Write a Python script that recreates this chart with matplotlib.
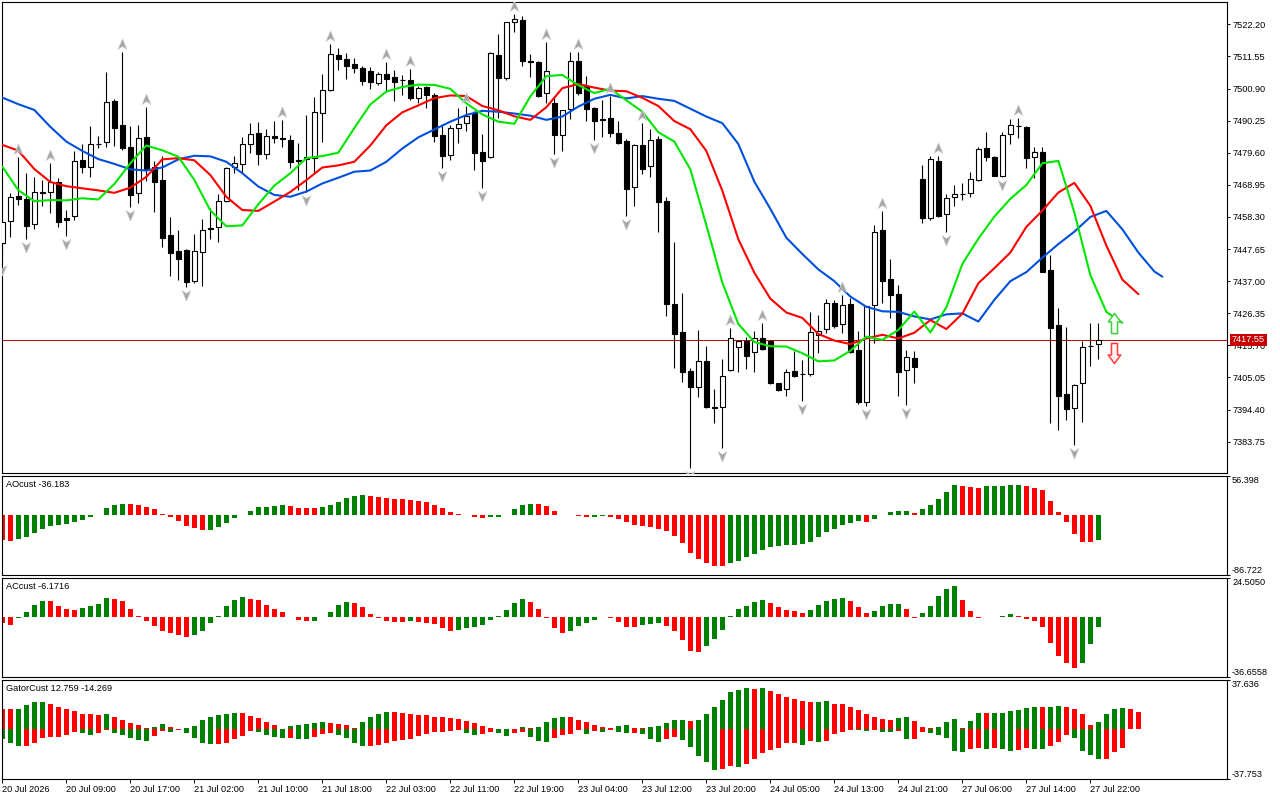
import numpy as np
import matplotlib
matplotlib.use("Agg")
import matplotlib.pyplot as plt
from matplotlib.path import Path
from matplotlib.transforms import offset_copy

plt.rcParams['font.family'] = ['Liberation Sans', 'DejaVu Sans']
plt.rcParams['font.size'] = 6.6

# ---------------- data: hourly candles ----------------
opens = [7449.8, 7456.9, 7465.2, 7464.1, 7455.9, 7466.4, 7466.7, 7470.0, 7457.8, 7458.6,
         7477.2, 7475.0, 7482.4, 7483.0, 7496.9, 7488.8, 7481.5, 7466.1, 7484.8, 7475.0,
         7470.6, 7452.3, 7447.1, 7447.3, 7437.1, 7446.6, 7454.3, 7454.9, 7463.5, 7474.7,
         7475.8, 7482.4, 7486.2, 7479.3, 7485.2, 7484.6, 7483.8, 7477.3, 7478.1, 7477.8,
         7492.7, 7500.3, 7512.0, 7510.6, 7509.0, 7507.8, 7506.7, 7502.8, 7505.7, 7504.6,
         7503.8, 7503.7, 7497.9, 7501.3, 7498.8, 7485.5, 7478.9, 7487.9, 7489.4, 7492.7,
         7480.0, 7478.3, 7512.0, 7504.3, 7522.9, 7523.6, 7509.9, 7509.8, 7499.3, 7496.0,
         7485.6, 7494.1, 7510.0, 7501.7, 7494.6, 7490.8, 7491.2, 7486.0, 7483.5, 7468.1,
         7482.0, 7475.1, 7484.2, 7463.6, 7429.4, 7420.0, 7407.2, 7402.0, 7410.5, 7395.2,
         7395.4, 7407.4, 7415.0, 7417.0, 7413.4, 7418.0, 7417.2, 7403.1, 7401.1, 7407.2,
         7406.3, 7406.1, 7419.2, 7421.1, 7429.7, 7422.8, 7429.3, 7414.2, 7396.8, 7429.1,
         7454.0, 7437.6, 7432.6, 7407.5, 7411.4, 7470.8, 7457.8, 7476.9, 7459.3, 7464.8,
         7465.8, 7466.1, 7470.6, 7481.1, 7478.3, 7471.9, 7485.7, 7488.4, 7488.2, 7478.3,
         7479.7, 7440.7, 7422.5, 7399.6, 7394.8, 7403.1, 7415.4, 7416.2]
highs = [7457.8, 7466.4, 7478.3, 7472.8, 7471.7, 7470.6, 7476.3, 7471.1, 7460.6, 7480.2,
         7482.5, 7488.5, 7485.3, 7506.5, 7497.3, 7513.1, 7488.5, 7488.7, 7494.9, 7476.9,
         7478.5, 7458.3, 7454.0, 7447.5, 7452.6, 7457.6, 7461.2, 7465.8, 7475.0, 7478.5,
         7484.8, 7489.4, 7489.7, 7487.5, 7490.1, 7490.5, 7485.5, 7482.9, 7492.1, 7498.0,
         7505.7, 7515.7, 7514.2, 7512.6, 7510.9, 7508.5, 7507.9, 7506.5, 7509.7, 7507.0,
         7505.3, 7507.4, 7501.7, 7501.7, 7499.3, 7489.1, 7488.7, 7494.6, 7495.2, 7493.5,
         7485.8, 7513.1, 7519.0, 7523.1, 7525.6, 7525.0, 7512.4, 7510.0, 7516.4, 7498.2,
         7493.8, 7512.9, 7512.9, 7505.1, 7494.7, 7497.1, 7498.5, 7490.1, 7484.0, 7482.5,
         7489.4, 7487.4, 7485.0, 7464.8, 7450.0, 7433.0, 7408.3, 7420.8, 7415.5, 7401.1,
         7411.1, 7421.4, 7417.5, 7418.6, 7420.5, 7423.0, 7417.5, 7403.3, 7407.9, 7413.8,
         7410.8, 7426.7, 7425.8, 7431.0, 7430.8, 7432.4, 7431.3, 7420.5, 7428.9, 7455.6,
         7460.3, 7444.4, 7435.7, 7414.0, 7413.8, 7475.5, 7478.5, 7478.5, 7465.8, 7468.9,
         7469.7, 7473.1, 7481.6, 7486.4, 7478.4, 7486.4, 7490.8, 7491.0, 7488.5, 7481.6,
         7481.6, 7445.7, 7428.0, 7421.7, 7402.9, 7417.0, 7423.0, 7423.0]
lows = [7443.5, 7451.8, 7462.3, 7450.9, 7454.4, 7462.0, 7459.7, 7454.8, 7452.0, 7457.3,
        7473.0, 7471.7, 7481.1, 7481.6, 7481.8, 7480.5, 7461.7, 7463.0, 7470.2, 7460.0,
        7448.4, 7438.7, 7437.4, 7435.0, 7436.5, 7435.5, 7451.1, 7450.1, 7463.4, 7472.8,
        7472.8, 7479.6, 7475.6, 7477.6, 7482.9, 7481.4, 7474.4, 7467.3, 7466.5, 7473.0,
        7483.3, 7500.2, 7507.0, 7504.2, 7505.9, 7502.1, 7500.7, 7502.1, 7499.9, 7496.9,
        7498.8, 7497.1, 7496.0, 7494.3, 7483.3, 7474.4, 7477.2, 7482.7, 7486.8, 7473.9,
        7467.8, 7477.8, 7491.0, 7503.7, 7519.8, 7508.5, 7504.8, 7498.2, 7496.0, 7479.2,
        7480.2, 7490.8, 7498.8, 7490.2, 7483.8, 7484.7, 7484.7, 7482.5, 7458.6, 7462.0,
        7472.7, 7471.7, 7453.4, 7425.6, 7408.3, 7403.7, 7374.9, 7398.7, 7395.0, 7390.0,
        7381.8, 7407.3, 7406.8, 7408.0, 7407.0, 7414.0, 7402.9, 7400.4, 7399.0, 7405.3,
        7397.2, 7405.7, 7413.1, 7419.7, 7421.6, 7419.7, 7413.1, 7396.2, 7395.6, 7416.4,
        7429.7, 7424.7, 7399.0, 7395.9, 7403.1, 7456.4, 7457.3, 7458.4, 7453.4, 7462.0,
        7463.9, 7465.0, 7470.2, 7477.0, 7471.9, 7471.4, 7482.5, 7484.6, 7474.4, 7471.1,
        7440.0, 7389.8, 7387.6, 7390.9, 7382.7, 7390.4, 7409.0, 7411.2]
closes = [7456.7, 7465.0, 7464.1, 7455.4, 7466.5, 7466.6, 7470.0, 7456.7, 7457.4, 7476.8,
          7475.0, 7482.5, 7482.6, 7496.3, 7487.9, 7481.3, 7465.6, 7484.5, 7474.2, 7470.0,
          7451.4, 7446.2, 7444.5, 7436.8, 7447.0, 7454.0, 7454.5, 7463.5, 7474.4, 7476.1,
          7482.5, 7485.7, 7479.3, 7485.2, 7484.4, 7484.2, 7476.6, 7477.0, 7477.5, 7493.0,
          7500.4, 7512.2, 7510.7, 7508.5, 7507.8, 7503.4, 7503.2, 7505.7, 7504.2, 7503.2,
          7503.6, 7497.9, 7501.1, 7498.8, 7485.2, 7478.6, 7487.9, 7489.1, 7491.9, 7479.6,
          7477.0, 7512.6, 7504.5, 7522.9, 7523.9, 7510.0, 7509.7, 7498.5, 7506.7, 7485.6,
          7493.7, 7510.0, 7499.5, 7494.2, 7490.2, 7490.6, 7486.0, 7482.9, 7467.7, 7482.0,
          7474.3, 7483.7, 7463.4, 7429.3, 7419.4, 7407.0, 7401.8, 7410.5, 7395.1, 7395.0,
          7405.5, 7418.0, 7417.2, 7412.3, 7418.0, 7414.4, 7403.1, 7400.9, 7406.8, 7405.7,
          7406.2, 7420.0, 7420.3, 7429.7, 7422.2, 7429.1, 7413.6, 7397.0, 7428.8, 7453.2,
          7437.2, 7432.4, 7406.8, 7411.7, 7408.6, 7458.1, 7477.4, 7458.6, 7464.5, 7465.9,
          7466.0, 7470.8, 7480.8, 7478.3, 7472.0, 7485.5, 7488.8, 7488.6, 7478.0, 7479.7,
          7440.2, 7421.6, 7399.0, 7394.5, 7402.6, 7415.1, 7415.6, 7417.55]

# Alligator lines, read every second bar (shifted forward past the last bar)
jaw_bars = list(range(0, 145, 2)) + [145]
jaw = [7497.9, 7495.7, 7493.8, 7488.2, 7483.3, 7480.2, 7477.5, 7475.9, 7474.1, 7473.7,
       7474.7, 7477.4, 7478.6, 7478.4, 7476.6, 7472.8, 7468.4, 7465.6, 7465.0, 7466.7,
       7469.4, 7471.3, 7473.3, 7473.7, 7476.6, 7481.0, 7484.7, 7487.3, 7489.9, 7492.1,
       7493.5, 7493.2, 7492.6, 7491.9, 7490.5, 7491.6, 7494.9, 7497.5, 7498.8, 7497.6,
       7498.4, 7497.5, 7496.8, 7494.2, 7491.6, 7489.4, 7482.5, 7470.0, 7461.0, 7451.4,
       7446.0, 7440.9, 7437.0, 7431.9, 7428.5, 7427.0, 7426.8, 7425.3, 7424.3, 7426.0,
       7426.3, 7423.6, 7430.8, 7437.0, 7440.0, 7444.8, 7449.3, 7453.4, 7458.3, 7460.3,
       7454.2, 7446.5, 7440.2, 7438.5]
teeth_bars = list(range(0, 143, 2))
teeth = [7482.2, 7480.3, 7474.2, 7469.9, 7468.5, 7467.8, 7467.1, 7466.3, 7468.0, 7471.6,
         7477.4, 7477.8, 7477.1, 7472.2, 7465.0, 7460.6, 7460.3, 7463.4, 7466.6, 7470.5,
         7474.7, 7475.4, 7476.6, 7482.0, 7488.7, 7493.0, 7495.3, 7497.7, 7498.6, 7498.4,
         7495.1, 7493.7, 7491.7, 7490.5, 7494.7, 7501.0, 7502.4, 7501.2, 7500.2, 7500.0,
         7497.8, 7495.1, 7490.1, 7487.4, 7480.2, 7467.0, 7450.9, 7439.8, 7431.2, 7426.6,
         7424.8, 7419.5, 7417.3, 7416.1, 7418.0, 7419.2, 7418.0, 7419.9, 7424.1, 7421.1,
         7426.2, 7436.3, 7441.3, 7446.5, 7455.0, 7460.4, 7466.4, 7469.6, 7462.0, 7448.8,
         7437.5, 7432.7]
lips_bars = list(range(0, 141, 2))
lips = [7475.0, 7467.2, 7463.5, 7463.9, 7463.8, 7464.5, 7464.1, 7469.2, 7476.1, 7482.0,
        7480.4, 7478.3, 7470.6, 7460.5, 7455.2, 7455.5, 7462.5, 7468.7, 7472.8, 7477.8,
        7478.5, 7479.6, 7487.8, 7495.6, 7499.9, 7501.4, 7502.2, 7502.1, 7500.8, 7496.0,
        7492.3, 7489.9, 7489.2, 7498.3, 7505.0, 7505.4, 7502.0, 7499.4, 7500.8, 7497.0,
        7493.2, 7486.4, 7483.3, 7474.1, 7455.6, 7436.5, 7422.8, 7416.8, 7415.4, 7415.3,
        7413.1, 7410.4, 7410.7, 7413.9, 7418.6, 7417.5, 7420.8, 7426.9, 7420.0, 7428.3,
        7442.7, 7451.1, 7458.4, 7464.3, 7468.9, 7476.1, 7476.9, 7459.8, 7439.0, 7426.8,
        7423.2]

# Fractal bars
fractal_up = [2, 6, 15, 18, 35, 41, 48, 51, 58, 64, 68, 72, 76, 80, 91, 95, 105, 110, 117, 127]
fractal_dn = [0, 3, 8, 16, 23, 38, 55, 60, 69, 74, 78, 86, 90, 100, 108, 113, 118, 125, 134]
signal_bar = 139

# Awesome oscillator
ao = [-37.1, -38.6, -35.7, -32.8, -27.0, -21.2, -16.9, -15.4, -14.0, -10.6,
      -8.2, -3.9, -1.0, 9.2, 13.5, 15.9, 15.4, 14.5, 11.6, 8.7,
      0.8, -2.9, -8.7, -15.9, -19.8, -22.6, -21.7, -18.3, -12.5, -5.3,
      -1.0, 5.8, 10.6, 11.6, 13.0, 14.5, 13.0, 10.1, 9.9, 9.2,
      10.6, 14.5, 18.8, 24.1, 27.0, 28.9, 27.5, 26.0, 24.6, 23.1,
      22.2, 21.2, 20.2, 17.8, 14.5, 9.2, 4.3, 1.0, -0.5, -3.9,
      -5.3, -3.9, -2.9, -1.0, 7.7, 14.5, 16.2, 15.9, 13.0, 5.8,
      0.3, -0.5, -2.4, -4.0, -3.6, -1.9, -3.9, -6.7, -11.1, -14.5,
      -15.9, -17.8, -20.2, -23.1, -30.4, -40.5, -54.9, -63.6, -69.4, -73.7,
      -74.7, -69.9, -66.5, -61.7, -56.4, -50.6, -47.2, -45.8, -44.3, -43.4,
      -41.9, -39.0, -32.8, -25.5, -20.7, -14.5, -11.6, -9.6, -11.1, -6.7,
      -1.0, 3.4, 5.6, 6.0, 1.9, 7.7, 14.5, 23.1, 33.3, 42.9,
      41.9, 40.5, 39.0, 41.5, 41.9, 42.2, 43.0, 43.4, 41.9, 38.6,
      35.2, 20.2, 3.9, -11.1, -27.5, -38.8, -39.2, -36.183]
ao_colors = [("R", 2), ("G", 14), ("R", 10), ("G", 10), ("R", 4), ("G", 6), ("R", 15), ("G", 6),
             ("R", 7), ("G", 2), ("R", 15), ("G", 17), ("R", 1), ("G", 5), ("R", 1), ("G", 5),
             ("R", 3), ("G", 5), ("R", 9), ("G", 1)]

# Accelerator oscillator
ac = [-3.6, -4.6, -0.3, 3.4, 7.5, 10.0, 9.9, 6.9, 5.0, 4.4,
      5.5, 6.9, 8.1, 11.8, 11.2, 10.0, 5.0, 1.1, -2.2, -5.5,
      -8.3, -9.8, -11.2, -12.3, -11.0, -8.3, -3.6, 1.1, 6.9, 10.6,
      12.5, 11.6, 10.6, 7.5, 5.0, 3.4, 0.1, -1.8, -2.2, -2.1,
      0.1, 3.4, 7.5, 9.6, 8.8, 6.5, 2.2, -0.1, -2.2, -2.8,
      -2.9, -2.4, -2.8, -3.4, -4.2, -6.5, -8.3, -8.1, -6.7, -6.1,
      -4.6, -1.5, 1.1, 4.4, 9.0, 11.4, 9.6, 5.0, -0.3, -6.7,
      -9.8, -8.3, -5.3, -3.4, -1.5, 0.1, -0.3, -2.8, -6.1, -6.2,
      -4.6, -4.0, -3.4, -5.3, -8.3, -13.9, -20.7, -21.3, -17.8, -13.3,
      -7.7, 0.9, 5.0, 6.9, 9.6, 10.6, 9.0, 6.3, 4.4, 3.8,
      2.6, 4.4, 7.5, 10.0, 11.2, 11.8, 10.0, 6.3, 2.6, 3.8,
      6.9, 8.1, 8.3, 5.0, -0.3, 2.6, 6.9, 13.1, 17.4, 19.3,
      10.6, 3.8, -0.1, 0.1, 0.3, 0.9, 1.8, 1.1, -0.9, -2.2,
      -6.1, -15.8, -23.8, -28.3, -31.2, -28.3, -16.4, -6.1716]
ac_colors = [("R", 2), ("G", 4), ("R", 4), ("G", 4), ("R", 10), ("G", 7), ("R", 8), ("G", 5),
             ("R", 7), ("G", 1), ("R", 5), ("G", 9), ("R", 5), ("G", 5), ("R", 4), ("G", 3),
             ("R", 5), ("G", 8), ("R", 5), ("G", 5), ("R", 3), ("G", 4), ("R", 2), ("G", 5),
             ("R", 3), ("G", 4), ("R", 8), ("G", 3)]

# Gator oscillator
gator_up = [15.7, 15.0, 15.7, 18.5, 20.3, 20.4, 19.5, 16.8, 15.0, 13.5,
            11.7, 11.4, 10.7, 11.4, 9.6, 7.1, 4.6, 2.8, 0.5, 1.5,
            3.8, 1.3, 0.3, 0.8, 2.5, 6.9, 9.1, 10.5, 11.4, 12.2,
            12.1, 9.9, 8.4, 5.3, 3.0, 0.1, 2.3, 3.0, 3.8, 4.6,
            5.3, 4.6, 3.8, 3.0, 0.8, 5.3, 9.1, 11.7, 12.9, 12.8,
            12.2, 11.7, 10.9, 10.8, 9.6, 9.1, 8.1, 7.6, 6.1, 4.6,
            2.3, 0.8, 0.3, 0.2, 0.1, 1.5, 0.8, 1.5, 5.3, 8.4,
            9.1, 9.0, 6.9, 5.3, 3.3, 1.5, 0.8, 2.5, 3.3, 0.8,
            0.5, 1.5, 2.3, 4.6, 6.9, 7.0, 6.1, 6.9, 11.4, 16.8,
            21.8, 27.9, 29.7, 31.2, 30.5, 31.3, 28.7, 26.6, 24.6, 22.8,
            21.1, 20.6, 20.8, 21.1, 19.5, 18.8, 16.8, 14.5, 11.4, 9.1,
            7.6, 6.9, 8.4, 9.1, 6.1, 1.8, 0.8, 1.8, 5.3, 7.6,
            0.8, 6.1, 12.2, 12.1, 12.2, 12.3, 13.7, 14.5, 16.0, 16.8,
            16.7, 16.9, 17.5, 16.8, 15.2, 11.4, 3.0, 5.3, 11.4, 15.2,
            16.0, 15.2, 12.759]
gator_up_colors = [("R", 2), ("G", 4), ("R", 7), ("G", 1), ("R", 5), ("G", 2), ("R", 2), ("G", 7),
                   ("R", 6), ("G", 5), ("R", 4), ("G", 4), ("R", 16), ("G", 1), ("R", 1), ("G", 4),
                   ("R", 6), ("G", 2), ("R", 2), ("G", 5), ("R", 1), ("G", 7), ("R", 1), ("G", 1),
                   ("R", 6), ("G", 2), ("R", 8), ("G", 2), ("R", 3), ("G", 3), ("R", 1), ("G", 2),
                   ("R", 1), ("G", 6), ("R", 1), ("G", 2), ("R", 4), ("G", 4), ("R", 2)]
gator_dn = [-7.6, -10.2, -12.7, -12.6, -10.4, -6.9, -6.1, -6.0, -4.3, -2.5,
            -2.8, -4.3, -3.0, -0.5, -2.8, -4.3, -6.6, -8.1, -8.9, -5.1,
            -1.3, -2.0, -0.3, -2.8, -6.6, -10.4, -11.2, -11.1, -10.4, -7.4,
            -5.1, -1.3, -2.0, -4.3, -5.8, -6.6, -6.5, -7.4, -7.5, -5.8,
            -3.6, -2.8, -4.3, -6.6, -10.4, -12.7, -12.6, -11.9, -10.4, -8.9,
            -8.1, -7.6, -5.1, -3.8, -2.5, -2.3, -1.3, -1.0, -3.0, -4.3,
            -3.6, -2.0, -3.0, -5.1, -2.8, -2.0, -5.8, -8.9, -9.6, -6.6,
            -4.3, -3.6, -0.5, -3.6, -1.3, -2.0, -0.8, -2.5, -3.3, -3.0,
            -3.6, -7.6, -9.6, -7.6, -5.8, -8.1, -13.5, -20.3, -24.9, -31.0,
            -30.5, -28.4, -28.9, -26.6, -22.8, -18.0, -16.0, -14.5, -10.9, -10.4,
            -11.9, -8.9, -9.6, -8.9, -3.8, -2.5, -0.8, -1.0, -1.5, -0.8,
            -2.0, -2.5, -1.8, -7.6, -7.4, -2.0, -3.0, -4.6, -6.6, -16.5,
            -17.3, -15.0, -14.2, -15.0, -14.2, -15.0, -16.5, -15.7, -14.2, -15.2,
            -15.3, -12.7, -9.6, -4.6, -6.6, -16.5, -19.5, -22.6, -22.5, -17.3,
            -14.269]
gator_dn_colors = [("G", 3), ("R", 7), ("G", 2), ("R", 2), ("G", 5), ("R", 2), ("G", 1), ("R", 1),
                   ("G", 4), ("R", 5), ("G", 4), ("R", 1), ("G", 2), ("R", 3), ("G", 4), ("R", 12),
                   ("G", 2), ("R", 2), ("G", 2), ("R", 2), ("G", 3), ("R", 4), ("G", 1), ("R", 1),
                   ("G", 1), ("R", 1), ("G", 2), ("R", 1), ("G", 3), ("R", 2), ("G", 5), ("R", 2),
                   ("G", 1), ("R", 7), ("G", 1), ("R", 1), ("G", 1), ("R", 4), ("G", 2), ("R", 1),
                   ("G", 2), ("R", 1), ("G", 1), ("R", 2), ("G", 5), ("R", 2), ("G", 1), ("R", 1),
                   ("G", 2), ("R", 2), ("G", 2), ("R", 3), ("G", 4), ("R", 3)]

# Axis labels / scales
price_ticks = [7522.20, 7511.55, 7500.90, 7490.25, 7479.60, 7468.95, 7458.30,
               7447.65, 7437.00, 7426.35, 7415.70, 7405.05, 7394.40, 7383.75]
time_label_bars = [0, 8, 16, 24, 32, 40, 48, 56, 64, 72, 80, 88, 96, 104, 112, 120, 128, 136]
time_labels = ["20 Jul 2026", "20 Jul 09:00", "20 Jul 17:00", "21 Jul 02:00", "21 Jul 10:00",
               "21 Jul 18:00", "22 Jul 03:00", "22 Jul 11:00", "22 Jul 19:00", "23 Jul 04:00",
               "23 Jul 12:00", "23 Jul 20:00", "24 Jul 05:00", "24 Jul 13:00", "24 Jul 21:00",
               "27 Jul 06:00", "27 Jul 14:00", "27 Jul 22:00"]
ao_scale = (-86.722, 56.398, "-86.722", "56.398")
ac_scale = (-36.6558, 24.5050, "-36.6558", "24.5050")
gator_scale = (-37.753, 37.636, "-37.753", "37.636")

# ---------------- styling ----------------
GREEN_H = '#008000'
RED_H = '#FF0000'
FS = 6.6
XMAX = 153.08
PRICE_LIM = (7373.26, 7529.5)

fig = plt.figure(figsize=(12.8, 8.0), dpi=100)
W_PX, H_PX = 1280.0, 800.0
left = 2.3 / W_PX
width = (1227.0 - 2.3) / W_PX


def add_panel(top_px, bot_px):
    return fig.add_axes([left, 1 - bot_px / H_PX, width, (bot_px - top_px) / H_PX])


axm = add_panel(2.3, 473.3)
ax_ao = add_panel(475.7, 574.7)
ax_ac = add_panel(577.7, 676.7)
ax_g = add_panel(679.7, 778.7)

for ax in (axm, ax_ao, ax_ac, ax_g):
    ax.set_xlim(0, XMAX)
    for sp in ax.spines.values():
        sp.set_linewidth(0.8)
        sp.set_color('black')
    ax.tick_params(axis='x', bottom=False, labelbottom=False)
    ax.yaxis.tick_right()
    ax.tick_params(axis='y', direction='out', length=2.5, width=0.7, pad=1.5,
                   labelsize=FS, colors='black')

# ---------------- main chart ----------------
o = np.array(opens); h = np.array(highs); l = np.array(lows); c = np.array(closes)
x = np.arange(len(o))
bull = c >= o
blo = np.minimum(o, c)
bh = np.maximum(np.abs(c - o), 0.05)

axm.vlines(x, l, h, color='black', lw=0.8, zorder=2)
axm.bar(x[bull], bh[bull], bottom=blo[bull], width=0.62, facecolor='white',
        edgecolor='black', linewidth=0.8, zorder=3)
axm.bar(x[~bull], bh[~bull], bottom=blo[~bull], width=0.62, facecolor='black',
        edgecolor='black', linewidth=0.8, zorder=3)

axm.plot(jaw_bars[:len(jaw)], jaw[:len(jaw_bars)], color='#0050DC', lw=1.5, zorder=4,
         solid_joinstyle='round', solid_capstyle='round')
axm.plot(teeth_bars[:len(teeth)], teeth[:len(teeth_bars)], color='#FF0000', lw=1.5, zorder=4,
         solid_joinstyle='round', solid_capstyle='round')
axm.plot(lips_bars[:len(lips)], lips[:len(lips_bars)], color='#00E600', lw=1.5, zorder=4,
         solid_joinstyle='round', solid_capstyle='round')

last = closes[-1]
axm.axhline(last, color='#C00000', lw=0.7, zorder=1.5)

# fractal arrows
MV, LT, CL = Path.MOVETO, Path.LINETO, Path.CLOSEPOLY
up_head = Path([(0, 1), (0.8, -0.9), (0, -0.35), (-0.8, -0.9), (0, 1)], [MV, LT, LT, LT, CL])
dn_head = Path([(0, -1), (0.8, 0.9), (0, 0.35), (-0.8, 0.9), (0, -1)], [MV, LT, LT, LT, CL])
tr_up = offset_copy(axm.transData, fig=fig, x=0, y=8, units='dots')
tr_dn = offset_copy(axm.transData, fig=fig, x=0, y=-8, units='dots')
axm.plot(fractal_up, h[fractal_up], ls='none', marker=up_head, ms=8, mfc='#a4a4a4',
         mec='#cfcfcf', mew=0.5, transform=tr_up, zorder=6)
axm.plot(fractal_dn, l[fractal_dn], ls='none', marker=dn_head, ms=8, mfc='#a4a4a4',
         mec='#cfcfcf', mew=0.5, transform=tr_dn, zorder=6)

# signal arrows (hollow block arrows)
blk_up = Path([(0, 1), (0.62, 0.15), (0.3, 0.15), (0.3, -1), (-0.3, -1), (-0.3, 0.15),
               (-0.62, 0.15), (0, 1)], [MV, LT, LT, LT, LT, LT, LT, CL])
blk_dn = Path([(0, -1), (0.62, -0.15), (0.3, -0.15), (0.3, 1), (-0.3, 1), (-0.3, -0.15),
               (-0.62, -0.15), (0, -1)], [MV, LT, LT, LT, LT, LT, LT, CL])
tr_sig_up = offset_copy(axm.transData, fig=fig, x=0, y=17, units='dots')
tr_sig_dn = offset_copy(axm.transData, fig=fig, x=0, y=-13, units='dots')
axm.plot([signal_bar], [last], ls='none', marker=blk_up, ms=14.5, mfc='#f3fff0',
         mec='#44cc44', mew=1.1, transform=tr_sig_up, zorder=7)
axm.plot([signal_bar], [last], ls='none', marker=blk_dn, ms=14.5, mfc='#fff3f3',
         mec='#ff3b3b', mew=1.1, transform=tr_sig_dn, zorder=7)

axm.set_ylim(*PRICE_LIM)
axm.set_yticks(price_ticks)
axm.set_yticklabels([f"{v:.2f}" for v in price_ticks])

axm.annotate(f"{last:.2f}", xy=(1, last), xycoords=('axes fraction', 'data'),
             xytext=(5, 0), textcoords='offset pixels', ha='left', va='center',
             color='white', fontsize=FS, annotation_clip=False, zorder=20,
             bbox=dict(boxstyle='square,pad=0.18', fc='#C80000', ec='none'))


# ---------------- indicator panels ----------------
def expand(runs, n):
    s = ''.join(ch * k for ch, k in runs)
    s = (s + s[-1] * n)[:n]
    return [GREEN_H if ch == 'G' else RED_H for ch in s]


def scale_labels(ax, scale):
    lo, hi, lo_s, hi_s = scale
    ax.set_ylim(lo, hi)
    ax.set_yticks([lo, hi])
    ax.set_yticklabels(['', ''])
    ax.annotate(hi_s, xy=(1, hi), xycoords=('axes fraction', 'data'), xytext=(5, 0),
                textcoords='offset pixels', ha='left', va='top', fontsize=FS,
                annotation_clip=False)
    ax.annotate(lo_s, xy=(1, lo), xycoords=('axes fraction', 'data'), xytext=(5, 0),
                textcoords='offset pixels', ha='left', va='bottom', fontsize=FS,
                annotation_clip=False)


def panel_title(ax, text):
    ax.annotate(text, xy=(0, 1), xycoords='axes fraction', xytext=(4, -4),
                textcoords='offset pixels', ha='left', va='top', fontsize=FS)


ax_ao.bar(np.arange(len(ao)), ao, width=0.55, color=expand(ao_colors, len(ao)), linewidth=0)
scale_labels(ax_ao, ao_scale)
panel_title(ax_ao, f"AOcust {ao[-1]:.3f}")

ax_ac.bar(np.arange(len(ac)), ac, width=0.55, color=expand(ac_colors, len(ac)), linewidth=0)
scale_labels(ax_ac, ac_scale)
panel_title(ax_ac, f"ACcust {ac[-1]:.4f}")

ax_g.bar(np.arange(len(gator_up)), gator_up, width=0.55,
         color=expand(gator_up_colors, len(gator_up)), linewidth=0)
ax_g.bar(np.arange(len(gator_dn)), gator_dn, width=0.55,
         color=expand(gator_dn_colors, len(gator_dn)), linewidth=0)
scale_labels(ax_g, gator_scale)
panel_title(ax_g, f"GatorCust {gator_up[-1]:.3f} {gator_dn[-1]:.3f}")

ax_g.tick_params(axis='x', bottom=True, labelbottom=True, direction='out', length=3,
                 width=0.7, pad=1.5, labelsize=FS)
ax_g.set_xticks(time_label_bars)
ax_g.set_xticklabels(time_labels, ha='left')

fig.savefig("out.png", dpi=100, facecolor='white')
